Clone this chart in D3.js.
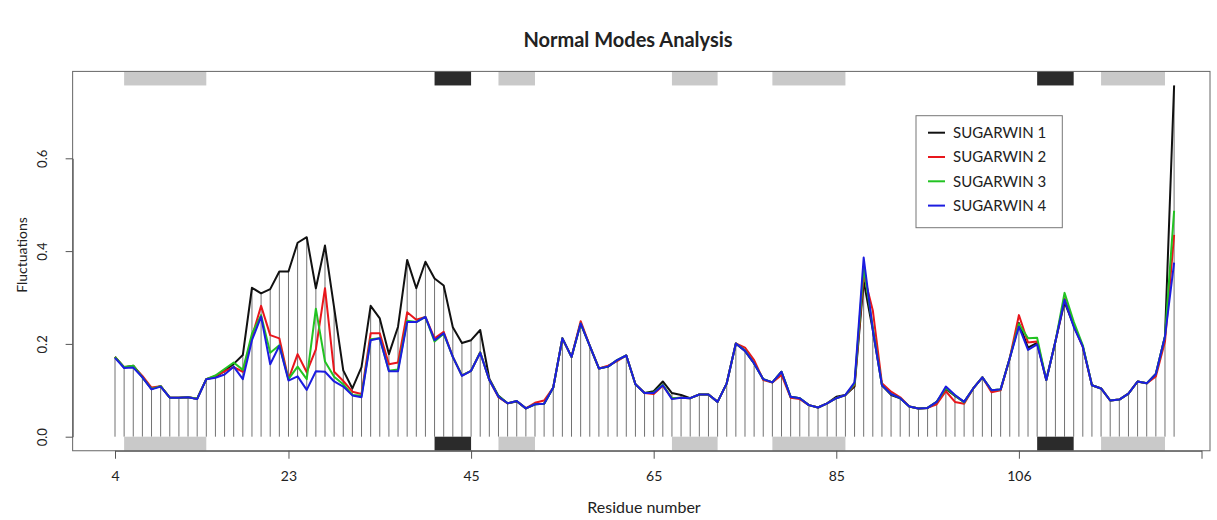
<!DOCTYPE html>
<html>
<head>
<meta charset="utf-8">
<script src="https://cdn.jsdelivr.net/npm/d3@7"></script>
<style>
body { margin: 0; background: #fff; }
text { font-family: Lato, "Open Sans", sans-serif; fill: #222; }
</style>
</head>
<body>
<div id="GraphDiv"></div>
<script>
// Fluctuation per residue index (1..117), one array per model.
const sugarwin1 = [
    .172,.149,.153,.129,.103,.109,.084,.084,.085,.082,
    .124,.129,.142,.157,.176,.321,.309,.318,.356,.356,
    .418,.430,.320,.412,.278,.143,.104,.150,.282,.255,
    .178,.237,.381,.320,.377,.341,.326,.236,.202,.208,
    .230,.125,.088,.072,.076,.061,.070,.071,.106,.212,
    .172,.244,.196,.147,.151,.165,.175,.113,.094,.098,
    .119,.094,.090,.083,.091,.091,.075,.115,.201,.185,
    .158,.124,.117,.140,.086,.083,.068,.063,.072,.086,
    .090,.108,.335,.230,.111,.090,.083,.065,.061,.062,
    .075,.103,.088,.075,.104,.128,.100,.102,.169,.245,
    .192,.202,.122,.205,.290,.240,.194,.111,.104,.078,
    .080,.093,.119,.115,.135,.216,.757]
const sugarwin2 = [
    .172,.150,.152,.131,.106,.109,.084,.084,.085,.082,
    .124,.131,.141,.150,.140,.215,.282,.219,.212,.124,
    .178,.139,.188,.320,.140,.120,.097,.092,.223,.223,
    .156,.160,.268,.252,.258,.212,.226,.172,.132,.142,
    .182,.122,.085,.072,.077,.061,.073,.078,.106,.212,
    .172,.249,.196,.147,.153,.163,.175,.113,.094,.092,
    .110,.083,.084,.083,.091,.091,.075,.115,.201,.192,
    .165,.122,.117,.133,.084,.081,.068,.063,.072,.083,
    .090,.112,.350,.272,.115,.097,.085,.065,.061,.062,
    .070,.098,.075,.071,.104,.128,.096,.100,.169,.262,
    .203,.205,.122,.205,.298,.240,.194,.111,.104,.078,
    .080,.093,.119,.115,.130,.205,.435]
const sugarwin3 = [
    .172,.150,.153,.128,.103,.109,.084,.084,.085,.082,
    .124,.132,.146,.160,.144,.222,.262,.181,.197,.124,
    .151,.124,.276,.162,.129,.113,.090,.088,.210,.212,
    .142,.145,.250,.247,.258,.205,.222,.172,.132,.142,
    .182,.122,.087,.072,.077,.061,.070,.071,.106,.212,
    .172,.244,.196,.147,.151,.165,.175,.113,.094,.095,
    .112,.083,.084,.083,.091,.091,.075,.115,.201,.186,
    .158,.124,.117,.140,.086,.083,.068,.063,.072,.083,
    .090,.114,.365,.235,.111,.092,.083,.065,.061,.062,
    .075,.105,.089,.074,.104,.128,.100,.102,.169,.243,
    .212,.213,.122,.205,.310,.248,.197,.111,.104,.078,
    .080,.093,.119,.115,.135,.216,.487]
const sugarwin4 = [
    .170,.148,.149,.128,.102,.108,.084,.084,.085,.081,
    .124,.127,.134,.151,.124,.208,.259,.156,.196,.121,
    .130,.101,.141,.140,.119,.108,.089,.085,.208,.212,
    .141,.141,.247,.247,.258,.208,.223,.172,.131,.142,
    .181,.122,.086,.072,.077,.061,.070,.071,.106,.212,
    .172,.244,.196,.147,.151,.165,.175,.113,.094,.094,
    .111,.081,.084,.083,.091,.091,.075,.115,.201,.185,
    .158,.124,.117,.140,.086,.083,.068,.063,.072,.083,
    .090,.117,.386,.230,.111,.092,.083,.065,.061,.062,
    .075,.108,.090,.075,.104,.128,.100,.102,.169,.237,
    .187,.199,.122,.205,.295,.237,.194,.111,.104,.078,
    .080,.093,.119,.115,.135,.216,.375]

const seriesNames = ["SUGARWIN 1", "SUGARWIN 2", "SUGARWIN 3", "SUGARWIN 4"]
const seriesColours = ["#111111", "#e8161c", "#22c322", "#1c1ce0"]

// X ticks sit on residue index, labelled with residue number.
const tickIndex = [1, 20, 40, 60, 80, 100, 120]
const tickLabels = ["4", "23", "45", "65", "85", "106", ""]
const yTicks = [0, 0.2, 0.4, 0.6]

// Secondary structure segments (residue index from / to, kind).
const ssStart = [2, 36, 43, 62, 73, 102, 109]
const ssEnd = [11, 40, 47, 67, 81, 106, 116]
const ssKind = ["light", "dark", "light", "light", "light", "dark", "light"]

// Global layout.
let width = 1217
let height = 520
let boxRight = 1210

let allSeries = [sugarwin1, sugarwin2, sugarwin3, sugarwin4]
let n = sugarwin1.length
let yMax = d3.max(allSeries.flat())
let yPad = yMax * 0.04
let xPad = (n - 1) * 0.04

// Main svg element.
let svg = d3.select("#GraphDiv")
    .append("svg")
    .attr("width", width)
    .attr("height", height)
    .style("background", "#fff");

// Scales (index -> px, fluctuation -> px).
let xRange = d3.scaleLinear().domain([1, 120]).range([115, 1201.5]);
let yRange = d3.scaleLinear().domain([0, 0.6]).range([436.7, 158.3]);

let boxLeft = xRange(1 - xPad)
let boxTop = yRange(yMax + yPad)
let boxBottom = yRange(-yPad)

// Vertical drop lines from SUGARWIN 1 (type "h").
svg.append("g")
    .selectAll("line")
    .data(sugarwin1)
    .enter()
    .append("line")
    .attr("x1", (d, i) => xRange(i + 1))
    .attr("x2", (d, i) => xRange(i + 1))
    .attr("y1", yRange(0))
    .attr("y2", d => yRange(d))
    .style("stroke", "#727272")
    .style("stroke-width", 1);

// Secondary structure bars, top and bottom.
let ss = ssStart.map((s, i) => ({start: s, end: ssEnd[i], kind: ssKind[i]}))
let ssColour = {"light": "#c9c9c9", "dark": "#2b2b2b"}
let bandY = [[boxTop, yRange(yMax)], [yRange(0), boxBottom]]
bandY.forEach(function(b) {
    svg.append("g")
        .selectAll("rect")
        .data(ss)
        .enter()
        .append("rect")
        .attr("x", d => xRange(d.start))
        .attr("width", d => xRange(d.end) - xRange(d.start))
        .attr("y", b[0])
        .attr("height", b[1] - b[0])
        .style("fill", d => ssColour[d.kind]);
});

// Series lines.
let line = d3.line()
    .x((d, i) => xRange(i + 1))
    .y(d => yRange(d));

svg.append("g")
    .selectAll("path")
    .data(allSeries)
    .enter()
    .append("path")
    .attr("d", d => line(d))
    .style("fill", "none")
    .style("stroke", (d, i) => seriesColours[i])
    .style("stroke-width", 2)
    .style("stroke-linejoin", "round");

// Plot frame.
svg.append("rect")
    .attr("x", boxLeft)
    .attr("y", boxTop)
    .attr("width", boxRight - boxLeft)
    .attr("height", boxBottom - boxTop)
    .style("fill", "none")
    .style("stroke", "#666")
    .style("stroke-width", 1);

// Axes.
let xAxis = d3.axisBottom(xRange)
    .tickValues(tickIndex)
    .tickFormat((d, i) => tickLabels[i])
    .tickSize(8)
    .tickSizeOuter(0)
    .tickPadding(12);
let yAxis = d3.axisLeft(yRange)
    .tickValues(yTicks)
    .tickFormat(d3.format(".1f"))
    .tickSize(7)
    .tickSizeOuter(0);

let gx = svg.append("g")
    .attr("transform", "translate(0," + boxBottom + ")")
    .call(xAxis);
gx.selectAll("text").style("font-size", "14px").style("fill", "#222");

let gy = svg.append("g")
    .attr("transform", "translate(" + boxLeft + ",0)")
    .call(yAxis);
gy.selectAll("text")
    .attr("x", 0)
    .attr("dy", 0)
    .attr("text-anchor", "middle")
    .attr("transform", "translate(-26,0) rotate(-90)")
    .style("font-size", "13px")
    .style("fill", "#222");

svg.selectAll(".domain, .tick line").style("stroke", "#555");

// Titles.
svg.append("text")
    .attr("x", 628)
    .attr("y", 47)
    .style("text-anchor", "middle")
    .style("font-size", "20px")
    .style("font-weight", "bold")
    .text("Normal Modes Analysis");

svg.append("text")
    .attr("x", 644)
    .attr("y", 513)
    .style("text-anchor", "middle")
    .style("font-size", "16px")
    .text("Residue number");

svg.append("text")
    .attr("transform", "translate(27,255) rotate(-90)")
    .style("text-anchor", "middle")
    .style("font-size", "14px")
    .text("Fluctuations");

// Legend.
let legend = svg.append("g").attr("transform", "translate(916,115.7)");
legend.append("rect")
    .attr("width", 146.3)
    .attr("height", 112)
    .style("fill", "#fff")
    .style("stroke", "#777")
    .style("stroke-width", 1);

let item = legend.selectAll("g.item")
    .data(seriesNames)
    .enter()
    .append("g")
    .attr("class", "item")
    .attr("transform", (d, i) => "translate(0," + (17 + i * 24.3) + ")");
item.append("line")
    .attr("x1", 12)
    .attr("x2", 29)
    .style("stroke", (d, i) => seriesColours[i])
    .style("stroke-width", 2);
item.append("text")
    .attr("x", 37)
    .attr("dy", "0.36em")
    .style("font-size", "15px")
    .text(d => d);
</script>
</body>
</html>
